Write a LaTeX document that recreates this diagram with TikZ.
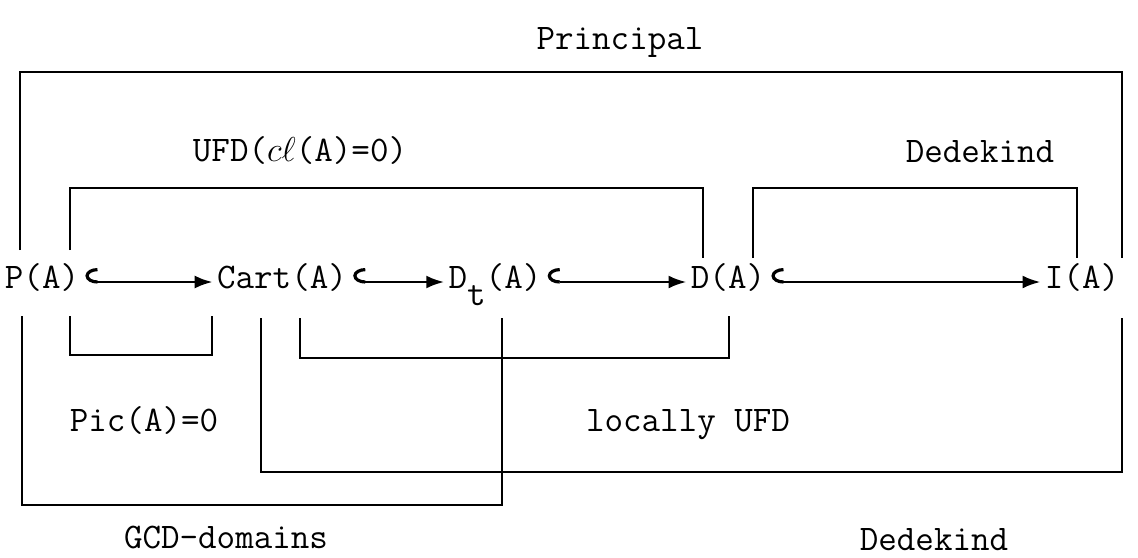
\documentclass[tikz,border=0pt]{standalone}
\usetikzlibrary{arrows.meta}

\tikzset{
  lbl/.style={font=\fontsize{18}{21}\selectfont\ttfamily, inner sep=1pt},
  obj/.style={lbl, text height=2ex, text depth=0.5ex},
  incl/.style={{Hooks[right,length=6pt,width=14pt,line width=1.6pt]}-{Latex[length=9pt,width=6.5pt]},
    line width=1.4pt, shorten <=2pt, shorten >=1pt},
  frame/.style={line width=1.3pt},
}

\begin{document}
\begin{tikzpicture}[x=0.5pt,y=-0.5pt]
    \useasboundingbox (0,0) rectangle (1138,557);

    % the five groups, left to right
    \node [obj] (pa)   at (42,282)   {P(A)};
    \node [obj] (cart) at (282,282)  {Cart(A)};
    \node [obj] (dt)   at (495,282)  {D\raisebox{-1.1ex}{t}(A)};
    \node [obj] (da)   at (728,282)  {D(A)};
    \node [obj] (ia)   at (1082,282) {I(A)};

    \draw [incl] (pa) -- (cart);
    \draw [incl] (cart) -- (dt);
    \draw [incl] (dt) -- (da);
    \draw [incl] (da) -- (ia);

    % brackets above
    \draw [frame] (20,250) |- (1122,72) -- (1122,258);
    \draw [frame] (70,250) |- (703,188) -- (703,258);
    \draw [frame] (753,258) |- (1077,188) -- (1077,258);

    % brackets below
    \draw [frame] (70,316) |- (212,355) -- (212,316);
    \draw [frame] (300,318) |- (729,358) -- (729,316);
    \draw [frame] (261,318) |- (1122,472) -- (1122,318);
    \draw [frame] (22,316) |- (502,505) -- (502,318);

    \node [lbl] (principal) at (620,42)  {Principal};
    \node [lbl] (ufd)       at (300,150) {UFD($c\ell$(A)=0)};
    \node [lbl] (dedtop)    at (980,152) {Dedekind};
    \node [lbl] (pic)       at (144,420) {Pic(A)=0};
    \node [lbl] (locufd)    at (688,425) {locally UFD};
    \node [lbl] (gcd)       at (226,537) {GCD-domains};
    \node [lbl] (dedbot)    at (934,540) {Dedekind};
\end{tikzpicture}
\end{document}
